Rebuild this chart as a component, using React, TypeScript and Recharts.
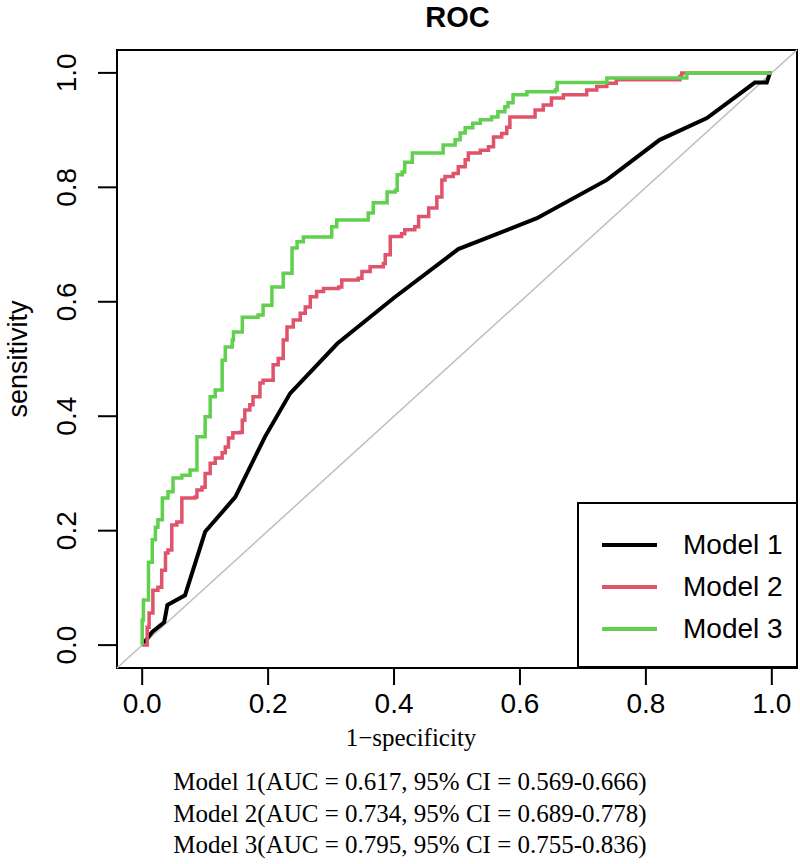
import React from 'react';
import {
  LineChart,
  Line,
  XAxis,
  YAxis,
  ReferenceLine,
  ReferenceArea,
  Legend,
} from 'recharts';

// values
const axisTicks = [0, 0.2, 0.4, 0.6, 0.8, 1];
const modelNames = ['Model 1', 'Model 2', 'Model 3'];
const modelColors = ['#000000', '#DF536B', '#61D04F'];
const aucLabels = [
  'Model 1(AUC = 0.617, 95% CI = 0.569-0.666)',
  'Model 2(AUC = 0.734, 95% CI = 0.689-0.778)',
  'Model 3(AUC = 0.795, 95% CI = 0.755-0.836)',
];

const model1Fpr = [0, 0.016, 0.035, 0.04, 0.068, 0.1, 0.148, 0.195, 0.235, 0.31, 0.4, 0.502, 0.627, 0.738, 0.822, 0.897, 0.973, 0.992, 0.997, 1];
const model1Tpr = [0, 0.023, 0.04, 0.07, 0.087, 0.198, 0.259, 0.364, 0.44, 0.527, 0.607, 0.692, 0.746, 0.813, 0.883, 0.921, 0.983, 0.983, 1, 1];

const model2Fpr = [0, 0.005, 0.008, 0.011, 0.017, 0.025, 0.031, 0.037, 0.041, 0.047, 0.055, 0.063, 0.084, 0.087, 0.095, 0.1, 0.108, 0.116, 0.127, 0.132, 0.137, 0.144, 0.156, 0.159, 0.163, 0.171, 0.176, 0.187, 0.192, 0.208, 0.216, 0.224, 0.23, 0.24, 0.251, 0.259, 0.267, 0.277, 0.288, 0.312, 0.317, 0.343, 0.349, 0.362, 0.383, 0.386, 0.394, 0.412, 0.417, 0.433, 0.439, 0.455, 0.468, 0.476, 0.481, 0.494, 0.502, 0.513, 0.518, 0.537, 0.55, 0.558, 0.571, 0.579, 0.584, 0.624, 0.637, 0.65, 0.669, 0.706, 0.722, 0.738, 0.753, 0.854, 0.857, 1];
const model2Tpr = [0, 0, 0.031, 0.056, 0.096, 0.101, 0.131, 0.161, 0.166, 0.21, 0.215, 0.257, 0.259, 0.271, 0.276, 0.3, 0.318, 0.327, 0.336, 0.346, 0.362, 0.371, 0.372, 0.393, 0.411, 0.42, 0.434, 0.458, 0.463, 0.49, 0.501, 0.533, 0.556, 0.568, 0.58, 0.591, 0.609, 0.618, 0.623, 0.626, 0.638, 0.641, 0.653, 0.661, 0.667, 0.682, 0.714, 0.719, 0.726, 0.731, 0.749, 0.764, 0.783, 0.813, 0.819, 0.824, 0.836, 0.848, 0.86, 0.865, 0.871, 0.888, 0.894, 0.905, 0.923, 0.935, 0.944, 0.956, 0.962, 0.97, 0.976, 0.982, 0.988, 0.994, 1, 1];

const model3Fpr = [0, 0, 0.002, 0.01, 0.016, 0.021, 0.025, 0.032, 0.041, 0.049, 0.063, 0.076, 0.087, 0.1, 0.108, 0.116, 0.127, 0.132, 0.143, 0.145, 0.159, 0.184, 0.192, 0.206, 0.224, 0.238, 0.246, 0.256, 0.301, 0.309, 0.359, 0.367, 0.389, 0.402, 0.405, 0.413, 0.417, 0.429, 0.478, 0.497, 0.505, 0.513, 0.525, 0.537, 0.555, 0.565, 0.576, 0.581, 0.589, 0.611, 0.656, 0.659, 0.738, 0.865, 1];
const model3Tpr = [0, 0.044, 0.079, 0.145, 0.184, 0.206, 0.219, 0.257, 0.268, 0.292, 0.297, 0.306, 0.364, 0.399, 0.434, 0.446, 0.498, 0.521, 0.533, 0.547, 0.573, 0.577, 0.594, 0.626, 0.65, 0.694, 0.705, 0.713, 0.731, 0.743, 0.755, 0.773, 0.792, 0.795, 0.822, 0.827, 0.844, 0.86, 0.874, 0.883, 0.895, 0.904, 0.912, 0.918, 0.923, 0.932, 0.941, 0.948, 0.962, 0.967, 0.97, 0.983, 0.991, 1, 1];

const toPoints = (fpr: number[], tpr: number[]) => fpr.map((x, i) => ({ x, y: tpr[i] }));

const sans = '"Liberation Sans", Arial, sans-serif';
const serif = '"Liberation Serif", "Times New Roman", serif';
const lo = -0.04;
const hi = 1.04;

const YTick = ({ x, y, payload }: any) => (
  <text
    x={0}
    y={0}
    transform={`translate(${x}, ${y}) rotate(-90)`}
    textAnchor="middle"
    fontSize={28}
    fontFamily={sans}
    fill="#000"
  >
    {payload.value.toFixed(1)}
  </text>
);

const RocLegend = ({ payload }: any) => (
  <div
    style={{
      position: 'relative',
      width: 221,
      height: 166,
      boxSizing: 'border-box',
      border: '2px solid #000',
      background: '#fff',
    }}
  >
    {(payload || []).map((item: any, i: number) => (
      <div
        key={item.value}
        style={{ position: 'absolute', left: 0, top: 41 + i * 42 - 16, height: 32, display: 'flex', alignItems: 'center' }}
      >
        <div style={{ marginLeft: 23, width: 55, height: i === 0 ? 4 : 3.5, background: item.color }} />
        <span style={{ marginLeft: 26, fontFamily: sans, fontSize: 28, color: '#000', lineHeight: '32px' }}>{item.value}</span>
      </div>
    ))}
  </div>
);

export default function App() {
  const series = [toPoints(model1Fpr, model1Tpr), toPoints(model2Fpr, model2Tpr), toPoints(model3Fpr, model3Tpr)];

  return (
    <div style={{ position: 'absolute', left: 0, top: 0, width: 800, height: 864, background: '#fff' }}>
      <div
        style={{
          position: 'absolute',
          left: 117,
          width: 681,
          top: 3,
          textAlign: 'center',
          fontFamily: sans,
          fontWeight: 'bold',
          fontSize: 29,
          lineHeight: '29px',
        }}
      >
        ROC
      </div>

      <LineChart width={800} height={864} margin={{ top: 50, right: 3, bottom: 136, left: 17 }}>
        <XAxis
          type="number"
          dataKey="x"
          domain={[lo, hi]}
          ticks={axisTicks}
          allowDataOverflow
          height={60}
          axisLine={false}
          tickLine={{ stroke: '#000', strokeWidth: 2 }}
          tickSize={17}
          tickMargin={8}
          tickFormatter={(v: number) => v.toFixed(1)}
          tick={{ fontSize: 28, fontFamily: sans, fill: '#000' }}
          label={() => (
            <text x={411} y={746} textAnchor="middle" fontSize={25} fontFamily={serif} fill="#000">
              1−specificity
            </text>
          )}
        />
        <YAxis
          type="number"
          dataKey="y"
          domain={[lo, hi]}
          ticks={axisTicks}
          allowDataOverflow
          width={100}
          axisLine={false}
          tickLine={{ stroke: '#000', strokeWidth: 2 }}
          tickSize={19}
          tickMargin={22}
          tick={<YTick />}
          label={() => (
            <text
              x={0}
              y={0}
              transform="translate(27, 359) rotate(-90)"
              textAnchor="middle"
              fontSize={27}
              fontFamily={sans}
              fill="#000"
            >
              sensitivity
            </text>
          )}
        />
        <ReferenceLine
          segment={[{ x: lo, y: lo }, { x: hi, y: hi }]}
          stroke="#BEBEBE"
          strokeWidth={1.5}
          ifOverflow="visible"
        />
        <Line
          data={series[0]}
          dataKey="y"
          name={modelNames[0]}
          type="linear"
          stroke={modelColors[0]}
          strokeWidth={4}
          dot={false}
          isAnimationActive={false}
        />
        <Line
          data={series[1]}
          dataKey="y"
          name={modelNames[1]}
          type="stepAfter"
          stroke={modelColors[1]}
          strokeWidth={3.5}
          dot={false}
          isAnimationActive={false}
        />
        <Line
          data={series[2]}
          dataKey="y"
          name={modelNames[2]}
          type="stepAfter"
          stroke={modelColors[2]}
          strokeWidth={3.5}
          dot={false}
          isAnimationActive={false}
        />
        <ReferenceArea
          x1={lo}
          x2={hi}
          y1={lo}
          y2={hi}
          fill="none"
          stroke="#000"
          strokeWidth={2}
          ifOverflow="visible"
        />
        <Legend
          layout="vertical"
          align="center"
          verticalAlign="middle"
          wrapperStyle={{ left: 577, top: 502, width: 221, height: 166 }}
          content={<RocLegend />}
        />
      </LineChart>

      {aucLabels.map((text, i) => (
        <div
          key={text}
          style={{
            position: 'absolute',
            left: 0,
            width: 820,
            top: 769 + i * 31.5,
            textAlign: 'center',
            fontFamily: serif,
            fontSize: 25,
            lineHeight: '25px',
            color: '#000',
            whiteSpace: 'nowrap',
          }}
        >
          {text}
        </div>
      ))}
    </div>
  );
}
